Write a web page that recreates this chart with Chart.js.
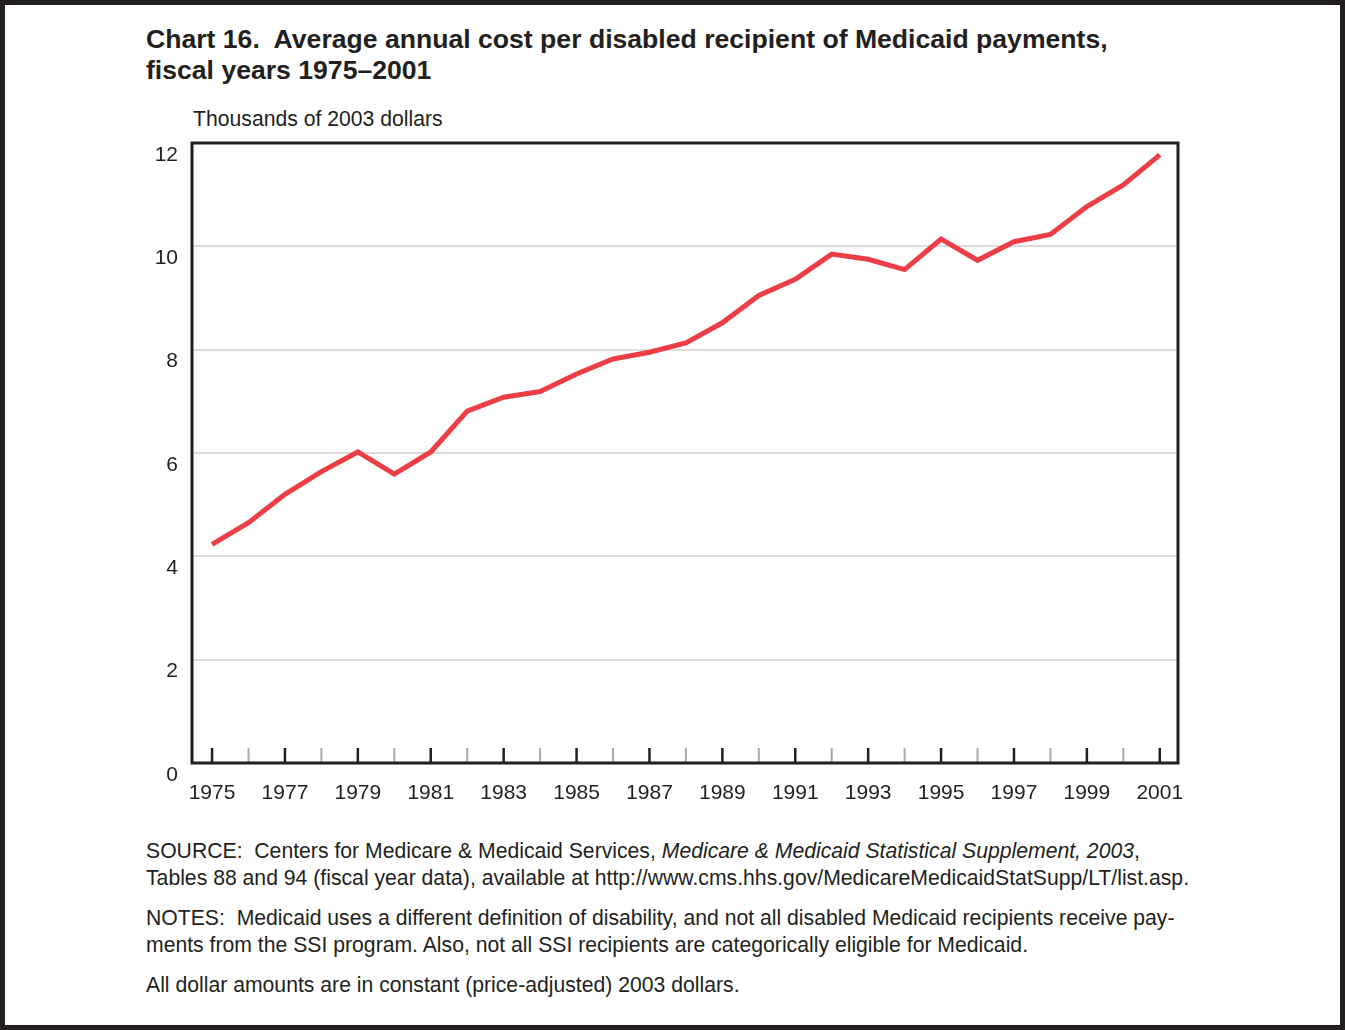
<!DOCTYPE html>
<html>
<head>
	<meta charset="UTF-8">
	<title>Chart 16</title>
	<script src="https://cdn.jsdelivr.net/npm/chart.js"></script>
	<style>
	body{margin:0; font-family:"Liberation Sans", Arial, Helvetica, sans-serif; color:#231f20;}
	#page{position:absolute; left:0; top:0; width:1345px; height:1030px; border:5px solid #231f20; box-sizing:border-box; background:#fff;}
	#title{position:absolute; left:146px; top:24px; font-size:26.6px; font-weight:bold; line-height:31px; white-space:nowrap;}
	#ylab{position:absolute; left:193px; top:107px; font-size:21.2px; line-height:24px;}
	#chartBox{position:absolute; left:0; top:130px; width:1345px; height:700px;}
	#notes{position:absolute; left:146px; top:837px; font-size:21.2px; line-height:27px; white-space:nowrap;}
	#notes p{margin:0 0 13px 0;}
	</style>
</head>
<body>
<div id="page"></div>
<div id="title">Chart 16.&nbsp; Average annual cost per disabled recipient of Medicaid payments,<br>fiscal years 1975–2001</div>
<div id="ylab">Thousands of 2003 dollars</div>
<div id="chartBox"><canvas id="myChart" width="1345" height="700"></canvas></div>
<div id="notes">
	<p>SOURCE:&nbsp; Centers for Medicare &amp; Medicaid Services, <i>Medicare &amp; Medicaid Statistical Supplement, 2003</i>,<br>Tables 88 and 94 (fiscal year data), available at http://www.cms.hhs.gov/MedicareMedicaidStatSupp/LT/list.asp.</p>
	<p>NOTES:&nbsp; Medicaid uses a different definition of disability, and not all disabled Medicaid recipients receive pay-<br>ments from the SSI program. Also, not all SSI recipients are categorically eligible for Medicaid.</p>
	<p>All dollar amounts are in constant (price-adjusted) 2003 dollars.</p>
</div>
<script>
// data (thousands of 2003 dollars)
var years = [1975,1976,1977,1978,1979,1980,1981,1982,1983,1984,1985,1986,1987,1988,
	1989,1990,1991,1992,1993,1994,1995,1996,1997,1998,1999,2000,2001];
var costs = [4.23,4.65,5.20,5.64,6.02,5.59,6.02,6.81,7.08,7.19,7.53,7.82,7.95,8.13,
	8.52,9.05,9.36,9.85,9.75,9.55,10.14,9.73,10.09,10.23,10.77,11.19,11.77];
var yTicks = [0,2,4,6,8,10,12];

var ink = '#231f20';
var tickFont = {family:'"Liberation Sans", Arial', size:21};

// frame round the plot + short inside ticks on the year axis
var framePlugin = {
	id:'frame',
	afterDraw:function(chart){
		var c = chart.ctx, a = chart.chartArea, x = chart.scales.x;
		c.save();
		years.forEach(function(yr){
			var px = x.getPixelForValue(yr);
			c.beginPath();
			c.strokeStyle = (yr % 2 === 1) ? ink : '#a7a9ac';
			c.lineWidth = (yr % 2 === 1) ? 2.5 : 2;
			c.moveTo(px, a.bottom);
			c.lineTo(px, a.bottom - 15);
			c.stroke();
		});
		c.strokeStyle = ink;
		c.lineWidth = 3;
		c.strokeRect(a.left, a.top, a.right - a.left, a.bottom - a.top);
		c.restore();
	}
};

new Chart(document.getElementById('myChart'), {
	type:'line',
	data:{
		datasets:[{
			data: years.map(function(y,i){ return {x:y, y:costs[i]}; }),
			borderColor:'#ee3e45',
			borderWidth:5,
			pointRadius:0,
			tension:0,
			borderJoinStyle:'miter'
		}]
	},
	options:{
		responsive:false,
		animation:false,
		layout:{padding:{left:0, right:167, top:13, bottom:0}},
		plugins:{legend:{display:false}, tooltip:{enabled:false}},
		scales:{
			x:{
				type:'linear',
				min:1974.45, max:2001.5,
				afterBuildTicks:function(axis){ axis.ticks = years.map(function(v){ return {value:v}; }); },
				afterFit:function(axis){ axis.height = 67; axis.paddingLeft = 0; axis.paddingRight = 0; },
				grid:{display:false, drawTicks:false},
				border:{display:false},
				ticks:{
					autoSkip:false, maxRotation:0, padding:18,
					color:ink, font:tickFont,
					callback:function(v){ return (v % 2 === 1) ? String(v) : ''; }
				}
			},
			y:{
				min:0, max:12,
				afterBuildTicks:function(axis){ axis.ticks = yTicks.map(function(v){ return {value:v}; }); },
				afterFit:function(axis){ axis.width = 192; axis.paddingTop = 0; axis.paddingBottom = 0; },
				border:{display:false},
				grid:{
					drawTicks:false, lineWidth:2,
					color:function(ctx){ var v = ctx.tick ? ctx.tick.value : 0; return (v === 0 || v === 12) ? 'rgba(0,0,0,0)' : '#dcdcdc'; }
				},
				ticks:{
					padding:14, labelOffset:12,
					color:ink, font:tickFont
				}
			}
		}
	},
	plugins:[framePlugin]
});
</script>
</body>
</html>
